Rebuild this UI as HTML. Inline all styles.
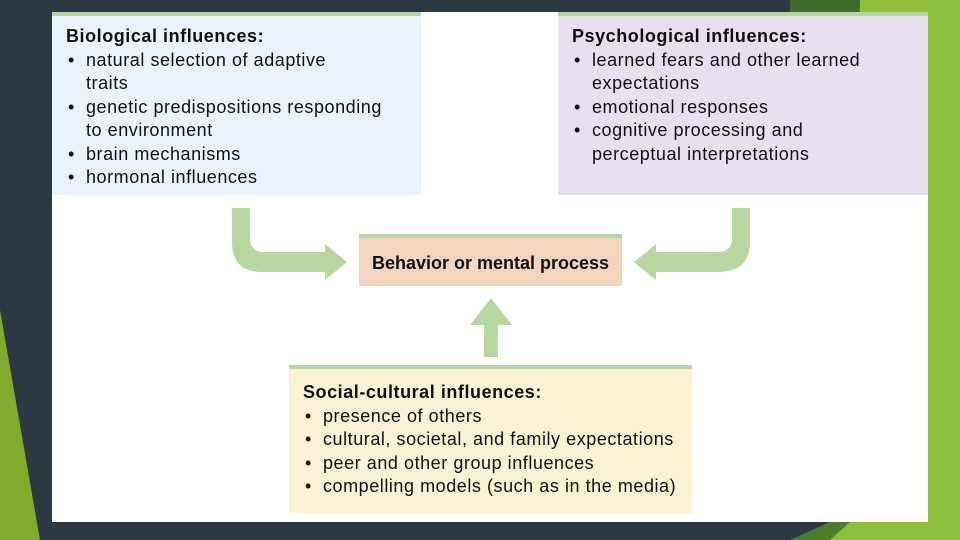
<!DOCTYPE html>
<html><head><style>
body{margin:0;width:960px;height:540px;overflow:hidden;background:#2b3a42;font-family:"Liberation Sans","DejaVu Sans",sans-serif;position:relative}
.box{position:absolute;border-top:4px solid #b5d6a0;box-sizing:border-box;color:#111;font-size:18px;letter-spacing:0.55px;line-height:23.5px;white-space:nowrap}
.box b{display:block}
ul{margin:0;padding:0;list-style:none}
li{position:relative;padding-left:20px}
li:before{content:"•";position:absolute;left:2px}
</style></head><body>
<svg width="960" height="540" style="position:absolute;left:0;top:0">
<polygon points="790,0 960,0 960,12 790,12" fill="#3e6b2a"/>
<polygon points="860,0 960,0 960,540 850,540" fill="#8dbf3a"/>
<polygon points="790,540 830,522 960,522 960,540" fill="#4a7d2a"/>
<polygon points="830,540 850,522 960,522 960,540" fill="#8dbf3a"/>
<polygon points="0,310 40,540 0,540" fill="#7fac2e"/>
<rect x="52" y="12" width="876" height="510" fill="#fff"/>
<g fill="#b6d8a0">
<path d="M232,208 H250 V238 Q250,252 264,252 H325 V244 L347,262 L325,280 V272 H262 Q232,272 232,242 Z"/>
<path d="M750,208 H732 V238 Q732,252 718,252 H656 V244 L634,262 L656,280 V272 H718 Q750,272 750,242 Z"/>
<path d="M484,357 V325 H470 L491,298 L512,325 H498 V357 Z"/>
</g>
</svg>
<div class="box" style="left:52px;top:12px;width:369px;height:183px;background:#eaf2fb;padding:9px 0 0 14px">
<b>Biological influences:</b>
<ul><li>natural selection of adaptive<br>traits</li><li>genetic predispositions responding<br>to environment</li><li>brain mechanisms</li><li>hormonal influences</li></ul></div>
<div class="box" style="left:558px;top:12px;width:370px;height:183px;background:#e6e0ef;padding:9px 0 0 14px">
<b>Psychological influences:</b>
<ul><li>learned fears and other learned<br>expectations</li><li>emotional responses</li><li>cognitive processing and<br>perceptual interpretations</li></ul></div>
<div class="box" style="left:359px;top:234px;width:263px;height:52px;background:#f3d5bf;text-align:center;padding-top:14px;letter-spacing:0"><b>Behavior or mental process</b></div>
<div class="box" style="left:289px;top:365px;width:403px;height:148px;background:#fbf1d4;padding:12px 0 0 14px">
<b>Social-cultural influences:</b>
<ul><li>presence of others</li><li>cultural, societal, and family expectations</li><li>peer and other group influences</li><li>compelling models (such as in the media)</li></ul></div>
</body></html>
